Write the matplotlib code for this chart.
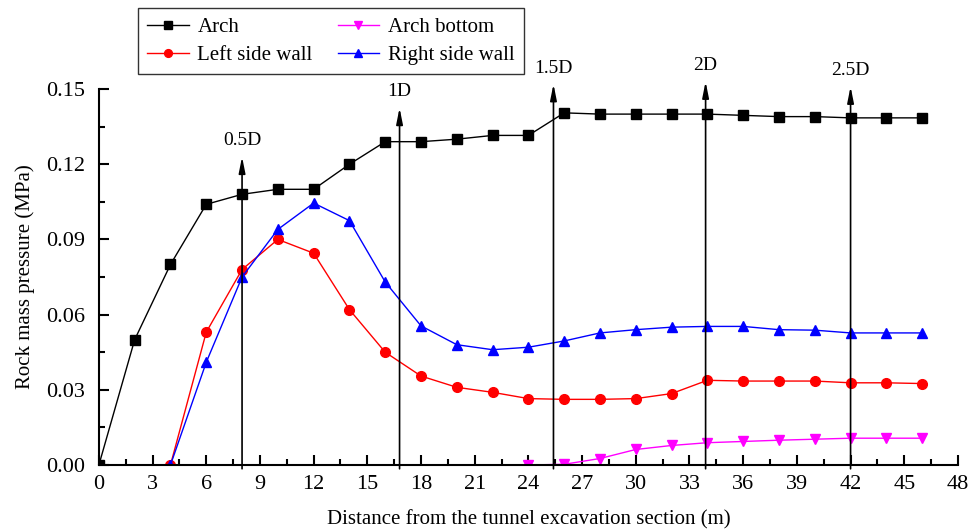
import matplotlib.pyplot as plt
import numpy as np

plt.rcParams['font.family'] = ['Liberation Serif', 'DejaVu Serif']
plt.rcParams['font.size'] = 12

# data
x_arch = np.arange(0, 48, 2)
arch = [0.0, 0.050, 0.080, 0.104, 0.108, 0.110, 0.110, 0.120, 0.129, 0.129,
        0.130, 0.1315, 0.1315, 0.1405, 0.140, 0.140, 0.140, 0.140, 0.1395,
        0.139, 0.139, 0.1385, 0.1385, 0.1385]

x_wall = np.arange(4, 48, 2)
left_wall = [0.0, 0.053, 0.078, 0.090, 0.0845, 0.062, 0.045, 0.0355, 0.031,
             0.029, 0.0265, 0.0262, 0.0262, 0.0265, 0.0285, 0.0338, 0.0335,
             0.0335, 0.0335, 0.0328, 0.0328, 0.0325]
right_wall = [0.0, 0.041, 0.075, 0.094, 0.1045, 0.0975, 0.073, 0.0555, 0.048,
              0.046, 0.047, 0.0495, 0.0527, 0.054, 0.055, 0.0553, 0.0553,
              0.054, 0.0538, 0.0527, 0.0527, 0.0527]

x_bottom = np.arange(24, 48, 2)
arch_bottom = [0.0, 0.0003, 0.0026, 0.0062, 0.0078, 0.0089, 0.0094, 0.0099,
               0.0103, 0.0107, 0.0107, 0.0107]

marks_x = [8, 16.8, 25.4, 33.9, 42]
marks_top = [0.123, 0.1425, 0.152, 0.153, 0.151]
marks_lbl = ['0.5D', '1D', '1.5D', '2D', '2.5D']

fig = plt.figure(figsize=(9.79, 5.30), dpi=100)
ax = fig.add_axes([0.101, 0.1226, 0.8775, 0.7094])

ax.plot(x_arch, arch, '-s', color='black', lw=1, ms=6.5, label='Arch')
ax.plot(x_wall, left_wall, '-o', color='red', lw=1, ms=7,
        mec='red', label='Left side wall')
ax.plot(x_bottom, arch_bottom, '-v', color='magenta', lw=1, ms=7.5,
        label='Arch bottom')
ax.plot(x_wall, right_wall, '-^', color='blue', lw=1, ms=7.5,
        label='Right side wall')

for xm, top, lbl in zip(marks_x, marks_top, marks_lbl):
    ax.annotate('', xy=(xm, top), xytext=(xm, -0.0015),
                arrowprops=dict(arrowstyle='-|>,head_width=0.16,head_length=0.8',
                                color='black', lw=1.2, shrinkA=0, shrinkB=0),
                annotation_clip=False)
    ax.text(xm, top + 0.003, lbl, ha='center', va='bottom', fontsize=14,
            clip_on=False)

ax.set_xlim(0, 48)
ax.set_ylim(0, 0.15)
ax.set_xticks(np.arange(0, 49, 3))
ax.set_xticks(np.arange(0, 48.1, 1.5), minor=True)
ax.set_yticks([0.0, 0.03, 0.06, 0.09, 0.12, 0.15])
ax.set_yticklabels(['0.00', '0.03', '0.06', '0.09', '0.12', '0.15'])
ax.set_yticks(np.arange(0, 0.151, 0.015), minor=True)
ax.tick_params(which='both', direction='in', width=1.5, labelsize=16)
ax.tick_params(which='major', length=7)
ax.tick_params(which='minor', length=4)
ax.tick_params(axis='y', which='both', pad=10)
ax.tick_params(axis='x', which='both', pad=7)
ax.spines['top'].set_visible(False)
ax.spines['right'].set_visible(False)
ax.spines['left'].set_linewidth(1.5)
ax.spines['bottom'].set_linewidth(1.5)
ax.set_xlabel('Distance from the tunnel excavation section (m)', fontsize=15,
              labelpad=12)
ax.set_ylabel('Rock mass pressure (MPa)', fontsize=15, labelpad=8)

leg = fig.legend(loc='upper left', bbox_to_anchor=(0.141, 0.985), ncol=2,
                 fontsize=15, frameon=True, fancybox=False, edgecolor='black',
                 borderaxespad=0, borderpad=0.45, labelspacing=0.4,
                 columnspacing=1.2, handlelength=2.0, handletextpad=0.4,
                 markerscale=0.8)
leg.get_frame().set_linewidth(1.0)

fig.savefig('out.png', dpi=100)
